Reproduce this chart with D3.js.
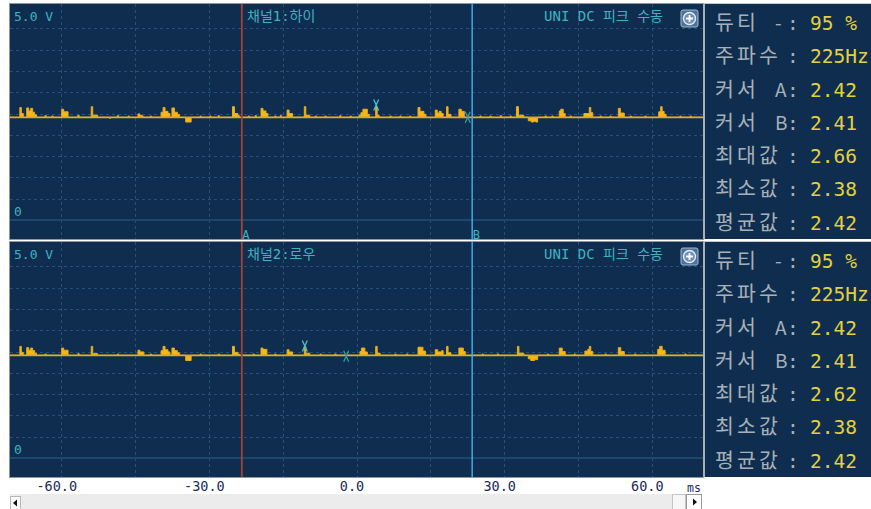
<!DOCTYPE html>
<html><head><meta charset="utf-8">
<script src="https://cdn.jsdelivr.net/npm/d3@7"></script>
<style>
html,body{margin:0;padding:0;background:#fff;}
svg{display:block;}
</style></head>
<body>
<svg id="chart" width="871" height="509"></svg>
<script>
// ---------- data ----------
const timeDomain = [-70.4, 70.4];            // ms
const gridTimes = [-60, -45, -30, -15, 0, 15, 30, 45, 60];
const gridVolts = [0.5, 1, 1.5, 2, 2.5, 3, 3.5, 4, 4.5];
const tickTimes = [-60, -30, 0, 30, 60];
const tickLabels = ["-60.0", "-30.0", "0.0", "30.0", "60.0"];
const cursorTimes = [-23.3, 23.5];
const cursorNames = ["A", "B"];
const BASE = 2.41;

const channelTitles = ["채널1:하이", "채널2:로우"];
const modeText = "UNI DC 피크 수동";
const scaleText = "5.0 V";

const infoLabels = ["듀티 -", "주파수", "커서 A", "커서 B", "최대값", "최소값", "평균값"];
const ch1Values = ["95 %", "225Hz", "2.42", "2.41", "2.66", "2.38", "2.42"];
const ch2Values = ["95 %", "225Hz", "2.42", "2.41", "2.62", "2.38", "2.42"];

const ch1Trace = [
[-70.4,2.41],
[-68.4,2.64],[-68.1,2.50],[-67.7,2.41],
[-67.0,2.63],[-66.6,2.56],[-66.2,2.62],[-65.8,2.53],[-65.4,2.47],[-65.0,2.41],
[-63.3,2.45],[-63.05,2.41],
[-61.9,2.44],[-61.65,2.41],
[-59.9,2.60],[-59.5,2.54],[-58.6,2.41],
[-56.6,2.46],[-56.35,2.41],
[-53.9,2.66],[-53.6,2.46],[-52.6,2.41],
[-50.2,2.39],[-49.95,2.41],
[-48.6,2.45],[-48.35,2.41],
[-46.4,2.44],[-46.15,2.41],
[-44.4,2.49],[-44.0,2.45],[-43.4,2.41],
[-41.9,2.44],[-41.65,2.41],
[-39.7,2.53],[-39.3,2.64],[-38.9,2.55],[-38.3,2.50],[-37.9,2.41],
[-37.5,2.63],[-37.0,2.53],[-36.4,2.48],[-36.0,2.41],
[-34.7,2.30],[-33.6,2.41],
[-31.8,2.44],[-31.55,2.41],
[-29.8,2.44],[-29.55,2.41],
[-28.1,2.45],[-27.85,2.41],
[-25.2,2.66],[-24.8,2.50],[-24.1,2.45],[-23.8,2.41],
[-22.0,2.44],[-21.75,2.41],
[-20.6,2.45],[-20.35,2.41],
[-19.4,2.62],[-19.0,2.56],[-18.4,2.50],[-18.0,2.41],
[-16.6,2.44],[-16.35,2.41],
[-15.5,2.45],[-15.25,2.41],
[-14.1,2.58],[-13.7,2.50],[-13.0,2.41],
[-10.6,2.66],[-10.3,2.46],[-9.5,2.41],
[-8.4,2.44],[-8.15,2.41],
[-6.4,2.44],[-6.15,2.41],
[-3.4,2.45],[-3.15,2.41],
[-1.3,2.44],[-1.05,2.41],
[0.5,2.46],[0.9,2.52],[1.3,2.60],[2.2,2.48],[2.6,2.41],
[3.9,2.66],[4.2,2.46],[4.6,2.41],
[6.8,2.44],[7.05,2.41],
[8.8,2.44],[9.05,2.41],
[10.8,2.44],[11.05,2.41],
[12.5,2.64],[12.9,2.55],[13.7,2.48],[14.1,2.41],
[16.0,2.58],[16.4,2.51],[16.8,2.55],[17.2,2.50],[17.6,2.41],
[18.3,2.66],[18.6,2.48],[19.2,2.41],
[20.8,2.60],[21.3,2.55],[21.9,2.41],
[25.1,2.44],[25.35,2.41],
[27.1,2.44],[27.35,2.41],
[29.2,2.45],[29.45,2.41],
[31.2,2.44],[31.45,2.41],
[32.5,2.66],[32.9,2.46],[34.0,2.41],
[34.9,2.33],[35.5,2.30],[36.0,2.32],[36.4,2.30],[36.8,2.41],
[38.3,2.44],[38.55,2.41],
[39.7,2.44],[39.95,2.41],
[41.2,2.56],[41.5,2.60],[42.0,2.50],[42.4,2.41],
[43.4,2.44],[43.65,2.41],
[46.2,2.50],[47.3,2.64],[47.6,2.52],[48.0,2.41],
[49.5,2.44],[49.75,2.41],
[51.5,2.44],[51.75,2.41],
[53.2,2.62],[53.6,2.51],[54.4,2.41],
[55.6,2.44],[55.85,2.41],
[58.6,2.44],[58.85,2.41],
[61.4,2.54],[61.8,2.66],[62.1,2.55],[62.5,2.48],[62.9,2.41],
[65.7,2.44],[65.95,2.41],
[67.8,2.44],[68.05,2.41],
[70.4,2.41]
];

const ch2Trace = [
[-70.4,2.41],
[-68.4,2.62],[-68.1,2.48],[-67.7,2.41],
[-67.0,2.59],[-66.6,2.53],[-66.2,2.58],[-65.8,2.52],[-65.4,2.46],[-65.0,2.41],
[-63.3,2.44],[-63.05,2.41],
[-59.9,2.58],[-59.5,2.53],[-58.6,2.41],
[-56.6,2.45],[-56.35,2.41],
[-53.9,2.62],[-53.6,2.45],[-52.6,2.41],
[-48.6,2.44],[-48.35,2.41],
[-44.4,2.53],[-44.0,2.49],[-43.2,2.41],
[-41.9,2.44],[-41.65,2.41],
[-39.7,2.52],[-39.3,2.62],[-38.9,2.54],[-38.3,2.49],[-37.9,2.41],
[-37.5,2.58],[-37.0,2.52],[-36.4,2.47],[-36.0,2.41],
[-34.7,2.29],[-33.6,2.41],
[-31.8,2.44],[-31.55,2.41],
[-28.1,2.44],[-27.85,2.41],
[-25.2,2.62],[-24.8,2.48],[-24.1,2.44],[-23.8,2.41],
[-21.0,2.44],[-20.75,2.41],
[-19.4,2.58],[-19.0,2.55],[-18.2,2.41],
[-16.6,2.44],[-16.35,2.41],
[-14.1,2.54],[-13.7,2.49],[-13.0,2.41],
[-10.6,2.62],[-10.3,2.46],[-9.5,2.41],
[-7.4,2.44],[-7.15,2.41],
[-4.4,2.44],[-4.15,2.41],
[0.7,2.50],[1.0,2.58],[1.7,2.49],[2.2,2.41],
[3.9,2.62],[4.2,2.46],[4.8,2.41],
[7.8,2.44],[8.05,2.41],
[10.2,2.44],[10.45,2.41],
[12.5,2.60],[13.5,2.51],[14.0,2.41],
[16.0,2.54],[16.5,2.49],[17.3,2.52],[17.6,2.41],
[18.3,2.62],[18.6,2.47],[19.2,2.41],
[20.8,2.58],[21.7,2.50],[22.1,2.41],
[25.5,2.44],[25.75,2.41],
[28.6,2.44],[28.85,2.41],
[32.7,2.62],[33.0,2.46],[34.0,2.41],
[34.9,2.33],[35.4,2.29],[36.2,2.31],[36.8,2.41],
[38.8,2.44],[39.05,2.41],
[41.2,2.58],[41.8,2.50],[42.4,2.41],
[44.2,2.44],[44.45,2.41],
[46.4,2.51],[47.0,2.55],[47.3,2.62],[47.6,2.50],[48.0,2.41],
[50.5,2.44],[50.75,2.41],
[53.2,2.59],[53.7,2.50],[54.4,2.41],
[56.5,2.44],[56.75,2.41],
[61.2,2.55],[61.6,2.62],[62.1,2.53],[62.7,2.41],
[66.7,2.44],[66.95,2.41],
[70.4,2.41]
];

const ch1Markers = [[4.0, 2.70], [22.6, 2.41]];
const ch2Markers = [[-10.5, 2.63], [-2.1, 2.39]];

// ---------- drawing ----------
const svg = d3.select("#chart");
const W = 871, H = 509;
const plotLeft = 10, plotRight = 703;
const panelTops = [4, 242], panelH = 235;
const BG = "#0f2e4f";
const CYAN = "#3fb2c2";
const MONO = "'DejaVu Sans Mono', 'Noto Sans CJK KR', monospace";

svg.append("rect").attr("width", W).attr("height", H).attr("fill", "#fff");

const x = d3.scaleLinear().domain(timeDomain).range([plotLeft, plotRight]);

const channels = [
  {trace: ch1Trace, markers: ch1Markers, values: ch1Values, title: channelTitles[0], cursorLabels: true},
  {trace: ch2Trace, markers: ch2Markers, values: ch2Values, title: channelTitles[1], cursorLabels: false}
];

channels.forEach((ch, i) => {
  const top = panelTops[i];
  const y = d3.scaleLinear().domain([0, 5]).range([top + 216, top + 216 - 5 * 42.6]);
  const g = svg.append("g");
  const clipId = "clip" + i;
  svg.append("clipPath").attr("id", clipId).append("rect")
    .attr("x", plotLeft).attr("y", top).attr("width", plotRight - plotLeft).attr("height", panelH);

  g.append("rect").attr("x", plotLeft).attr("y", top).attr("width", plotRight - plotLeft).attr("height", panelH)
    .attr("fill", BG);

  const pg = g.append("g").attr("clip-path", `url(#${clipId})`);

  // grid
  pg.selectAll(".vg").data(gridTimes).join("line")
    .attr("x1", d => Math.round(x(d)) + 0.5).attr("x2", d => Math.round(x(d)) + 0.5)
    .attr("y1", top).attr("y2", top + panelH)
    .attr("stroke", "#25507a").attr("stroke-width", 1).attr("stroke-dasharray", "3,3");
  pg.selectAll(".hg").data(gridVolts).join("line")
    .attr("x1", plotLeft).attr("x2", plotRight)
    .attr("y1", d => Math.round(y(d)) + 0.5).attr("y2", d => Math.round(y(d)) + 0.5)
    .attr("stroke", "#25507a").attr("stroke-width", 1).attr("stroke-dasharray", "3,3");
  pg.append("line").attr("x1", plotLeft).attr("x2", plotRight)
    .attr("y1", y(0)).attr("y2", y(0)).attr("stroke", "#1c4870").attr("stroke-width", 2);

  // trace
  const area = d3.area().x(d => x(d[0])).y0(y(BASE)).y1(d => y(d[1])).curve(d3.curveStepAfter);
  const line = d3.line().x(d => x(d[0])).y(d => y(d[1])).curve(d3.curveStepAfter);
  pg.append("path").datum(ch.trace).attr("d", area).attr("fill", "#f7b718");
  pg.append("line").attr("x1", plotLeft).attr("x2", plotRight)
    .attr("y1", y(BASE)).attr("y2", y(BASE)).attr("stroke", "#d8a62a").attr("stroke-width", 1.6);
  pg.append("path").datum(ch.trace).attr("d", line).attr("fill", "none")
    .attr("stroke", "#e9ad1c").attr("stroke-width", 1);

  // cursors
  const cColors = ["#a8402e", "#44b2ee"];
  cursorTimes.forEach((t, k) => {
    pg.append("line").attr("x1", x(t)).attr("x2", x(t)).attr("y1", top).attr("y2", top + panelH)
      .attr("stroke", cColors[k]).attr("stroke-width", k === 0 ? 1.8 : 1.4);
    if (ch.cursorLabels) {
      pg.append("text").attr("x", x(t) + 0.5).attr("y", top + panelH - 0.5)
        .attr("font-family", MONO).attr("font-size", 12).attr("fill", CYAN).text(cursorNames[k]);
    }
  });

  // markers
  ch.markers.forEach((m, k) => {
    const mx = x(m[0]), my = y(m[1]);
    pg.append("path")
      .attr("d", `M${mx-2.5},${my-5.5}L${mx+2.5},${my+5.5}M${mx+2.5},${my-5.5}L${mx-2.5},${my+5.5}`)
      .attr("stroke", k === 0 ? "#4cc0cf" : "#3a97a6").attr("stroke-width", 1.3).attr("fill", "none");
  });

  // overlay texts
  g.append("text").attr("x", 14).attr("y", top + 17).attr("font-family", MONO).attr("font-size", 13)
    .attr("fill", CYAN).text(scaleText);
  g.append("text").attr("x", 14).attr("y", top + 212).attr("font-family", MONO).attr("font-size", 13)
    .attr("fill", CYAN).text("0");
  g.append("text").attr("x", 247).attr("y", top + 17).attr("font-family", MONO).attr("font-size", 14)
    .attr("fill", CYAN).text(ch.title);
  g.append("text").attr("x", 663).attr("y", top + 17).attr("text-anchor", "end").attr("font-family", MONO)
    .attr("font-size", 14).attr("fill", CYAN).text(modeText);

  // zoom icon
  const ic = g.append("g").attr("transform", `translate(681,${top + 6})`);
  ic.append("rect").attr("width", 17).attr("height", 17).attr("rx", 2)
    .attr("fill", "#4f729b").attr("stroke", "#9fb6cf").attr("stroke-width", 1);
  ic.append("circle").attr("cx", 8.5).attr("cy", 8.5).attr("r", 6)
    .attr("fill", "#6d8fb6").attr("stroke", "#e6eef6").attr("stroke-width", 1.4);
  ic.append("path").attr("d", "M8.5,5V12M5,8.5H12").attr("stroke", "#ffffff").attr("stroke-width", 1.8);

  // border
  g.append("rect").attr("x", plotLeft - 0.5).attr("y", top - 0.5).attr("width", plotRight - plotLeft + 1)
    .attr("height", panelH + 1).attr("fill", "none").attr("stroke", "#8e969e").attr("stroke-width", 1);

  // info panel
  const ig = svg.append("g");
  ig.append("rect").attr("x", 704).attr("y", top).attr("width", W - 704).attr("height", panelH)
    .attr("fill", BG);
  ig.append("line").attr("x1", 704).attr("x2", 704).attr("y1", top).attr("y2", top + panelH)
    .attr("stroke", "#a8b0b8").attr("stroke-width", 2);
  ig.append("line").attr("x1", 704).attr("x2", W).attr("y1", top - 0.5).attr("y2", top - 0.5)
    .attr("stroke", "#c4c8cc").attr("stroke-width", 1);

  const rowY = r => top + 26 + r * 33.25;
  infoLabels.forEach((lab, r) => {
    const chars = Array.from(lab.replace(/ /g, ""));
    const slotX = [715, 737, 759];
    chars.forEach((c, k) => {
      const ascii = c.charCodeAt(0) < 128;
      ig.append("text").attr("x", ascii ? 775 : slotX[k]).attr("y", rowY(r))
        .attr("font-family", "'Noto Sans CJK KR', 'DejaVu Sans Mono', sans-serif")
        .attr("font-size", ascii ? 19 : 20.5).attr("fill", "#a6b0b7").text(c);
    });
    ig.append("text").attr("x", 787).attr("y", rowY(r)).attr("font-family", MONO).attr("font-size", 19.5)
      .attr("fill", "#a6b0b7").text(":");
    ig.append("text").attr("x", 810).attr("y", rowY(r)).attr("font-family", MONO).attr("font-size", 19.5)
      .attr("fill", "#e3d03c").text(ch.values[r]);
  });
});

svg.append("line").attr("x1", 0).attr("x2", W).attr("y1", 4.5).attr("y2", 4.5).attr("stroke", "#c8cacc").attr("stroke-width", 1).lower();

// bottom time axis labels
const axis = d3.axisBottom(x).tickValues(tickTimes).tickFormat((d, i) => tickLabels[i]).tickSize(0).tickPadding(0);
const ag = svg.append("g").attr("transform", "translate(-5,481)").call(axis);
ag.select(".domain").remove();
ag.selectAll("text").attr("font-family", MONO).attr("font-size", 13.5).attr("fill", "#1c2a5a").attr("dy", "0.71em");

svg.append("text").attr("x", 687).attr("y", 492).attr("font-family", MONO).attr("font-size", 11.5)
  .attr("fill", "#1c2a5a").text("ms");

// scrollbar
const sb = svg.append("g");
sb.append("rect").attr("x", 10).attr("y", 494).attr("width", 692).attr("height", 16).attr("fill", "#ececec");
sb.append("rect").attr("x", 10.5).attr("y", 496.5).attr("width", 10).attr("height", 13).attr("fill", "#fafafa").attr("stroke", "#b8b8b8");
sb.append("path").attr("d", "M13,503L17,499.5V506.5Z").attr("fill", "#111");
sb.append("rect").attr("x", 672.5).attr("y", 494.5).attr("width", 13).attr("height", 15).attr("fill", "#f7f7f7").attr("stroke", "#c4c4c4");
sb.append("rect").attr("x", 686.5).attr("y", 494.5).attr("width", 15).attr("height", 15).attr("fill", "#ffffff").attr("stroke", "#9a9a9a");
sb.append("path").attr("d", "M693,498.5L697,502L693,505.5Z").attr("fill", "#111");
</script>
</body></html>
